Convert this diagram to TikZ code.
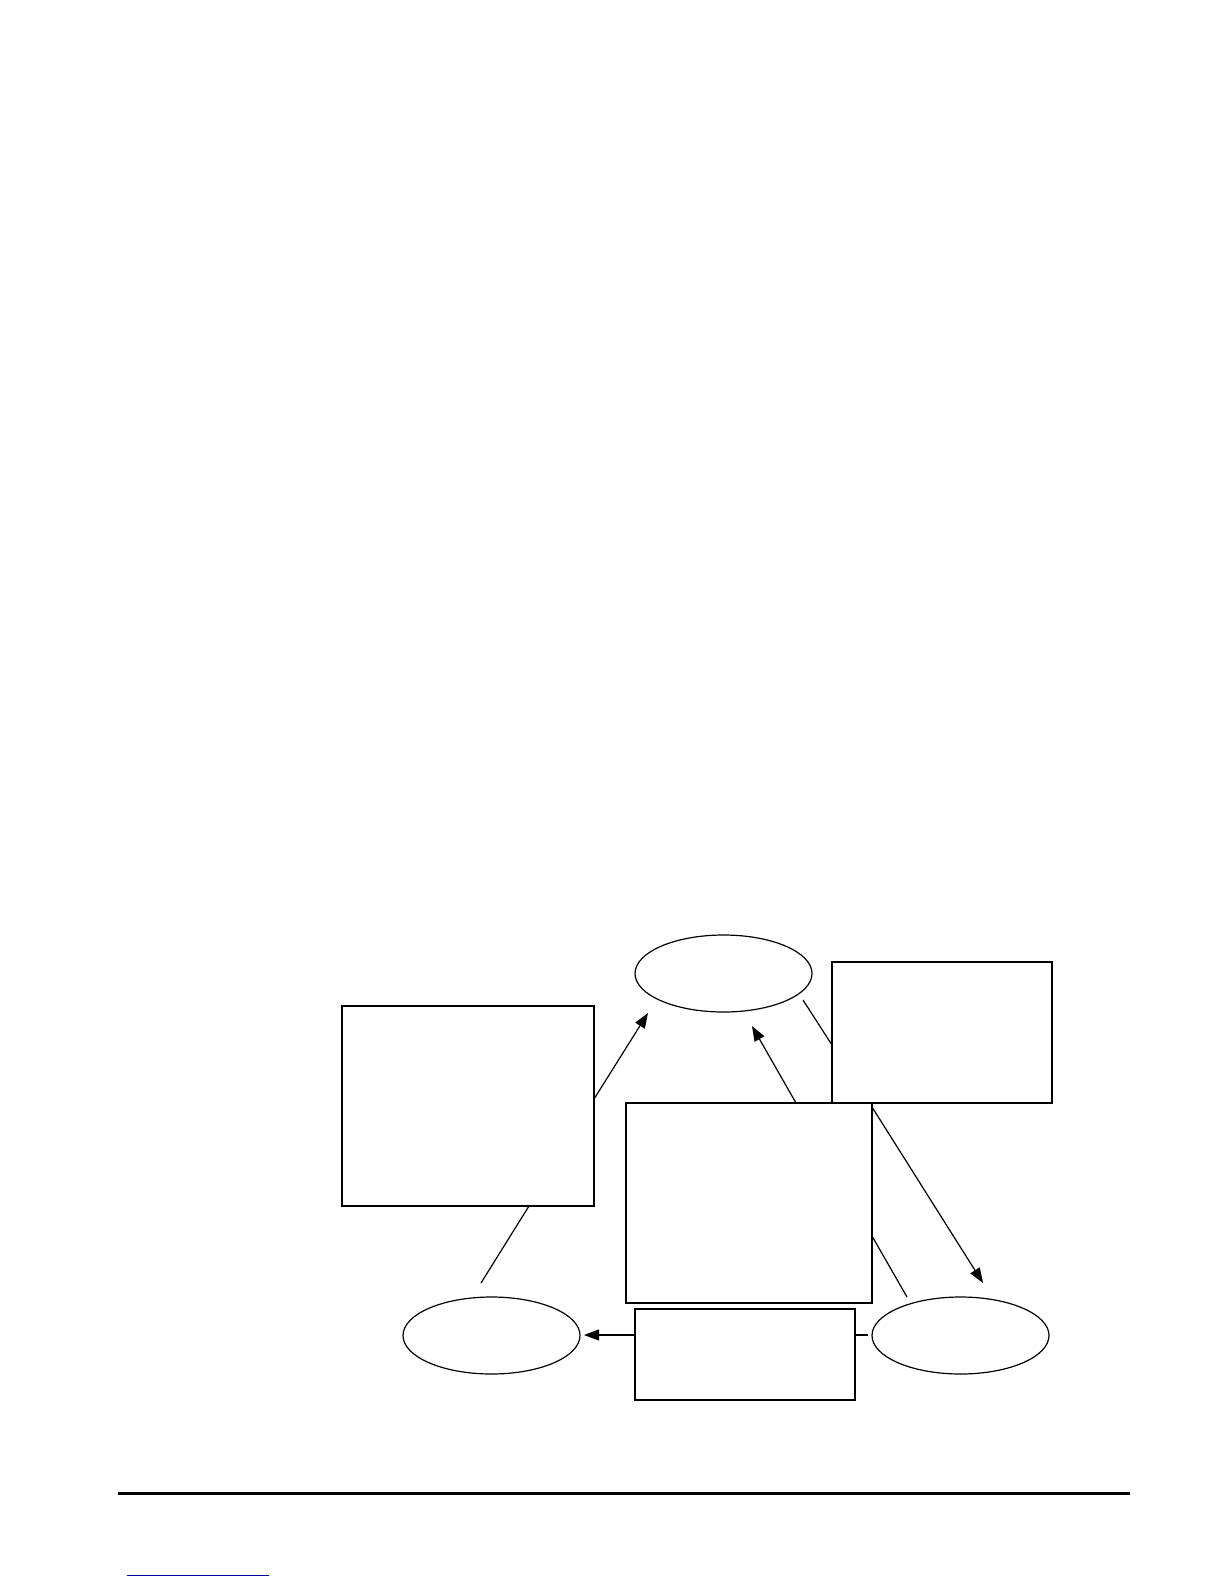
\documentclass[tikz,border=0pt]{standalone}
\usetikzlibrary{arrows.meta,shapes.geometric}
\begin{document}
\begin{tikzpicture}[x=0.5bp,y=-0.5bp,
  box/.style={draw, line width=0.75bp, inner sep=0pt, outer sep=0pt},
  oval/.style={draw, ellipse, line width=0.6bp, inner sep=0pt, outer sep=0pt, minimum width=88.5bp, minimum height=38.5bp},
  conn/.style={line width=0.6bp},
  arr/.style={conn, -{Triangle[length=7.5bp,width=5.5bp]}}]
\useasboundingbox (0,0) rectangle (1224,1584);
% nodes
\node[oval] (T) at (723.5,973.5) {};
\node[oval] (BL) at (491.5,1335.5) {};
\node[oval] (BR) at (960.5,1335.5) {};
\node[box, minimum width=126bp, minimum height=100bp] (L) at (468,1106) {};
\node[box, minimum width=123bp, minimum height=100bp] (C) at (749,1203) {};
\node[box, minimum width=110bp, minimum height=70.5bp] (TR) at (942,1032.5) {};
\node[box, minimum width=110bp, minimum height=45.5bp] (B) at (745,1354.5) {};
% connector ends
\coordinate (l1) at (594,1099);   \coordinate (t1) at (648,1013);
\coordinate (c1) at (796,1103);   \coordinate (t2) at (752,1026);
\coordinate (t3) at (803,1000);   \coordinate (tr1) at (832,1045);
\coordinate (c2) at (872,1107);   \coordinate (br1) at (983,1283);
\coordinate (c3) at (872,1236);   \coordinate (br2) at (907,1297);
\coordinate (b1) at (635,1335);   \coordinate (bl1) at (584,1335);
\coordinate (b2) at (855,1335);   \coordinate (br3) at (868,1335);
\coordinate (l2) at (529,1206);   \coordinate (bl2) at (481,1283);
% connectors
\draw[arr] (l1) -- (t1);
\draw[arr] (c1) -- (t2);
\draw[conn] (t3) -- (tr1);
\draw[arr] (c2) -- (br1);
\draw[conn] (c3) -- (br2);
\draw[arr] (b1) -- (bl1);
\draw[conn] (b2) -- (br3);
\draw[conn] (l2) -- (bl2);
% footer rules
\coordinate (r1) at (118,1493); \coordinate (r2) at (1130,1493);
\draw[line width=1.5bp] (r1) -- (r2);
\coordinate (u1) at (127,1575); \coordinate (u2) at (269,1575);
\draw[line width=0.5bp, color={rgb,255:red,0;green,0;blue,160}] (u1) -- (u2);
\end{tikzpicture}
\end{document}
